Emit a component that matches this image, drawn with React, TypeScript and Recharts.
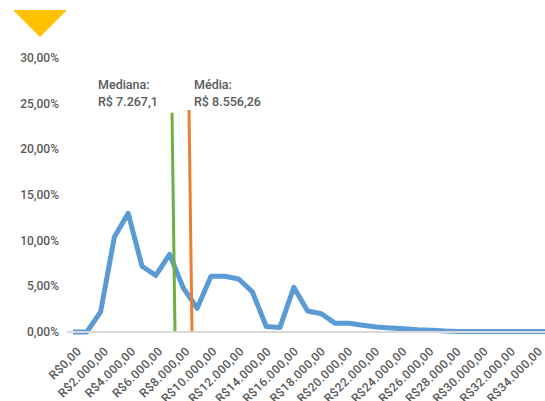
import React from 'react';
import { LineChart, Line, XAxis, YAxis, ReferenceLine } from 'recharts';

const incomes = [
  0, 1000, 2000, 3000, 4000, 5000, 6000, 7000, 8000, 9000, 10000, 11000, 12000, 13000, 14000, 15000, 16000,
  17000, 18000, 19000, 20000, 21000, 22000, 23000, 24000, 25000, 26000, 27000, 28000, 29000, 30000, 31000,
  32000, 33000, 34000, 35000,
];
const shares = [
  0.0, 0.0, 2.2, 10.4, 13.0, 7.2, 6.2, 8.5, 4.8, 2.6, 6.1, 6.1, 5.8, 4.4, 0.6, 0.5, 4.9,
  2.3, 2.0, 0.95, 0.95, 0.75, 0.55, 0.45, 0.35, 0.25, 0.2, 0.1, 0.05, 0.05, 0.05, 0.05,
  0.05, 0.05, 0.05, 0.05,
];
const xTicks = [0, 2000, 4000, 6000, 8000, 10000, 12000, 14000, 16000, 18000, 20000, 22000, 24000, 26000, 28000, 30000, 32000, 34000];
const yTicks = [0, 5, 10, 15, 20, 25, 30];
const medianSegment = [{ x: 7391, y: 0 }, { x: 7174, y: 24 }];
const meanSegment = [{ x: 8623, y: 0 }, { x: 8406, y: 24.3 }];
const medianLabel = ['Mediana:', 'R$ 7.267,1'];
const meanLabel = ['Média:', 'R$ 8.556,26'];

const data = incomes.map((v, i) => ({ income: v, share: shares[i] }));

const FONT = 'Roboto, "DejaVu Sans", sans-serif';
const GREY = '#595959';

const fmtMoney = (v: number) => {
  if (v === 0) return 'R$0,00';
  const s = String(v).replace(/\B(?=(\d{3})+(?!\d))/g, '.');
  return `R$${s},00`;
};
const fmtPct = (v: number) => `${v.toFixed(2).replace('.', ',')}%`;

const XTick = (props: any) => {
  const { x, payload } = props;
  const ax = x + 9 - 8 * (payload.value / 34000);
  const ay = 352;
  return (
    <text
      x={ax}
      y={ay}
      transform={`rotate(-45, ${ax}, ${ay})`}
      textAnchor="end"
      fontFamily={FONT}
      fontSize={12}
      fontWeight={500}
      letterSpacing={0.4}
      fill={GREY}
    >
      {fmtMoney(payload.value)}
    </text>
  );
};

const YTick = (props: any) => {
  const { y, payload } = props;
  return (
    <text x={59} y={y + 4} textAnchor="end" fontFamily={FONT} fontSize={12} fontWeight={500} fill={GREY}>
      {fmtPct(payload.value)}
    </text>
  );
};

export default function App() {
  return (
    <div style={{ position: 'absolute', left: 0, top: 0, width: 545, height: 401, background: '#fff', overflow: 'hidden' }}>
      <svg width={545} height={401} style={{ position: 'absolute', left: 0, top: 0 }}>
        <polygon points="13,10 67,10 40,37" fill="#FFC000" />
        <line x1={67} y1={332} x2={73} y2={332} stroke="#d9d9d9" strokeWidth={2} />
        <text fontFamily={FONT} fontSize={12.5} fontWeight={500} fill={GREY}>
          <tspan x={98} y={89}>{medianLabel[0]}</tspan>
          <tspan x={98} y={106}>{medianLabel[1]}</tspan>
        </text>
        <text fontFamily={FONT} fontSize={12.5} fontWeight={500} fill={GREY}>
          <tspan x={194} y={89}>{meanLabel[0]}</tspan>
          <tspan x={194} y={106}>{meanLabel[1]}</tspan>
        </text>
      </svg>
      <div style={{ position: 'absolute', left: 0, top: 0 }}>
        <LineChart width={556} height={401} data={data} margin={{ top: 58, right: 0, bottom: 0, left: 0 }}>
          <XAxis
            dataKey="income"
            type="number"
            domain={[0, 35000]}
            ticks={xTicks}
            interval={0}
            tick={<XTick />}
            tickLine={false}
            axisLine={{ stroke: '#d9d9d9', strokeWidth: 2 }}
            height={69}
          />
          <YAxis
            domain={[0, 30]}
            ticks={yTicks}
            tick={<YTick />}
            tickLine={false}
            axisLine={false}
            width={73}
          />
          <Line
            type="linear"
            dataKey="share"
            stroke="#5B9BD5"
            strokeWidth={5}
            dot={false}
            isAnimationActive={false}
            strokeLinejoin="round"
          />
          <ReferenceLine segment={medianSegment} stroke="#70AD47" strokeWidth={3} ifOverflow="visible" />
          <ReferenceLine segment={meanSegment} stroke="#ED7D31" strokeWidth={3} ifOverflow="visible" />
        </LineChart>
      </div>
    </div>
  );
}
